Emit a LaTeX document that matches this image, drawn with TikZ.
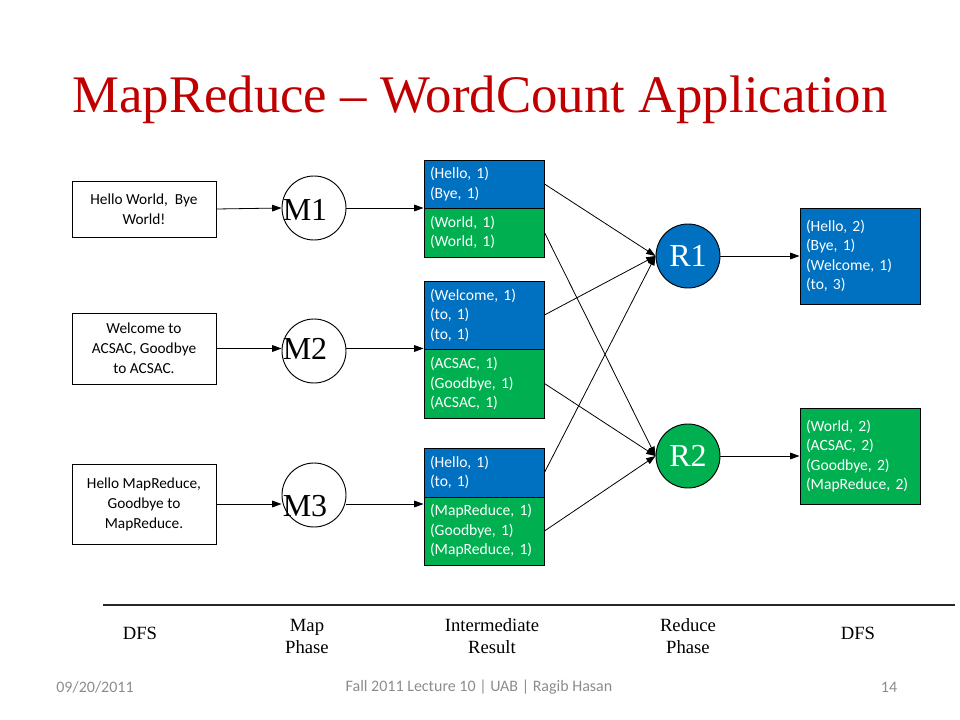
\documentclass[tikz,border=0pt]{standalone}
\usepackage{fontspec}
\setmainfont{Liberation Serif}
\newfontfamily\calibri{Carlito}
\usetikzlibrary{arrows.meta}

\definecolor{titlered}{HTML}{C00000}
\definecolor{pairblue}{HTML}{0070C0}
\definecolor{pairgreen}{HTML}{00B050}
\definecolor{footgray}{HTML}{8C8C8C}

\tikzset{
    inbox/.style={draw, line width=0.7pt, minimum width=108pt, inner sep=0pt, align=center, font=\calibri\fontsize{11.5}{15}\selectfont},
    pairbox/.style={draw, line width=0.7pt, text width=81pt, inner xsep=4.5pt, inner ysep=0pt, align=left, text=white, font=\calibri\fontsize{11.7}{14.6}\selectfont},
    worker/.style={circle, draw, line width=0.7pt, minimum size=48pt, inner sep=0pt},
    wlabel/.style={inner sep=0pt, font=\fontsize{24}{24}\selectfont},
    arr/.style={-{Triangle[length=7pt,width=5pt]}, line width=0.6pt},
    phase/.style={align=center, font=\fontsize{14}{16.5}\selectfont},
    foot/.style={text=footgray, font=\calibri\fontsize{12}{14}\selectfont}
}

\begin{document}
\begin{tikzpicture}[x=0.75pt, y=-0.75pt]
    \useasboundingbox (0,0) rectangle (960,720);

    \node[anchor=base, text=titlered, font=\fontsize{39.6}{40}\selectfont] (title) at (480,113) {MapReduce -- WordCount Application};

    % input splits
    \node[inbox, minimum height=42pt] (in1) at (144,209) {Hello World,\ \ Bye\\World!};
    \node[inbox, minimum height=53.25pt] (in2) at (144,348.5) {Welcome to\\ACSAC, Goodbye\\to ACSAC.};
    \node[inbox, minimum height=60pt] (in3) at (144,504) {Hello MapReduce,\\Goodbye to\\MapReduce.};

    % mappers
    \node[worker] (m1) at (314,208) {};
    \node[worker] (m2) at (314,351) {};
    \node[worker] (m3) at (314,495) {};
    \node[wlabel] (m1t) at (305,210) {M1};
    \node[wlabel] (m2t) at (305,349) {M2};
    \node[wlabel] (m3t) at (305,506) {M3};

    % intermediate pairs
    \node[pairbox, fill=pairblue, minimum height=36pt] (b1) at (484,184) {(Hello, 1)\\(Bye, 1)};
    \node[pairbox, fill=pairgreen, minimum height=36.75pt] (g1) at (484,232.5) {(World, 1)\\(World, 1)};
    \node[pairbox, fill=pairblue, minimum height=51pt] (b2) at (484,315) {(Welcome, 1)\\(to, 1)\\(to, 1)};
    \node[pairbox, fill=pairgreen, minimum height=51.75pt] (g2) at (484,383.5) {(ACSAC, 1)\\(Goodbye, 1)\\(ACSAC, 1)};
    \node[pairbox, fill=pairblue, minimum height=36.75pt] (b3) at (484,472.5) {(Hello, 1)\\(to, 1)};
    \node[pairbox, fill=pairgreen, minimum height=51pt] (g3) at (484,531) {(MapReduce, 1)\\(Goodbye, 1)\\(MapReduce, 1)};

    % reducers
    \node[worker, fill=pairblue, text=white, font=\fontsize{24}{24}\selectfont] (r1) at (688,256) {R1};
    \node[worker, fill=pairgreen, text=white, font=\fontsize{24}{24}\selectfont] (r2) at (688,456) {R2};

    % output
    \node[pairbox, fill=pairblue, minimum height=72pt] (out1) at (860,256) {(Hello, 2)\\(Bye, 1)\\(Welcome, 1)\\(to, 3)};
    \node[pairbox, fill=pairgreen, minimum height=72pt] (out2) at (860,456) {(World, 2)\\(ACSAC, 2)\\(Goodbye,\ 2)\\(MapReduce, 2)};

    \draw[arr] (in1.east) -- (m1.west);
    \draw[arr] (in2.east) -- (in2.east -| m2.west);
    \draw[arr] (in3.east) -- (in3.east -| m3.west);
    \draw[arr] (m1.east) -- (m1.east -| b1.west);
    \draw[arr] (m2.east |- in2) -- (b2.west |- in2);
    \draw[arr] (m3.east |- in3) -- (b3.west |- in3);

    \foreach \s in {b1,b2,b3}
        \draw[arr] (\s.east) -- (r1.west);
    \foreach \s in {g1,g2,g3}
        \draw[arr] (\s.east) -- (r2.west);

    \draw[arr] (r1.east) -- (out1.west);
    \draw[arr] (r2.east) -- (out2.west);

    % phases
    \draw[line width=0.9pt, black!85] (103,605) -- (955,605);
    \node[phase] (dfsin) at (140,633) {DFS};
    \node[phase] (mapph) at (307,636) {Map\\Phase};
    \node[phase] (interm) at (492,636) {Intermediate\\Result};
    \node[phase] (redph) at (688,636) {Reduce\\Phase};
    \node[phase] (dfsout) at (858,633) {DFS};

    % footer
    \node[foot] (date) at (95,687) {09/20/2011};
    \node[foot] (course) at (479,687) {Fall 2011 Lecture 10 | UAB | Ragib Hasan};
    \node[foot] (pageno) at (889,687) {14};
\end{tikzpicture}
\end{document}
